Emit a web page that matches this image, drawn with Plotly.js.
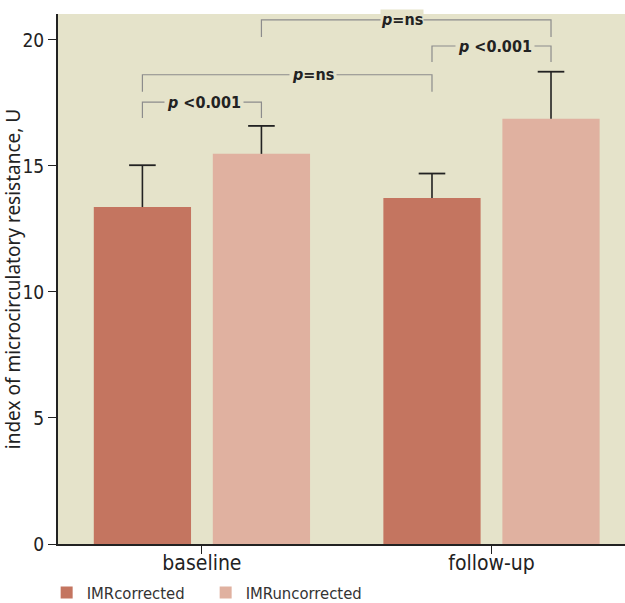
<!DOCTYPE html>
<html>
<head>
<meta charset="utf-8">
<script src="https://cdn.plot.ly/plotly-3.0.1.min.js"></script>
<style>html,body{margin:0;padding:0;background:#fff;}#chart{width:625px;height:603px;}</style>
</head>
<body>
<div id="chart"></div>
<script>
// ---- data ----
var categories = ['baseline', 'follow-up'];
var seriesNames = ['IMRcorrected', 'IMRuncorrected'];
var imrCorrected = [13.37, 13.73];
var imrCorrectedErr = [1.66, 0.97];
var imrUncorrected = [15.48, 16.87];
var imrUncorrectedErr = [1.11, 1.87];
var yTicks = [0, 5, 10, 15, 20];

// comparisons: [category index, series index] pairs
var compFrom = [[0, 0], [0, 0], [1, 0], [0, 1]];
var compTo   = [[0, 1], [1, 0], [1, 1], [1, 1]];
var compLabel = ['<i>p</i> <0.001', '<i>p</i>=ns', '<i>p</i> <0.001', '<i>p</i>=ns'];

// ---- styling / layout config ----
var colors = ['#c47560', '#e0b1a0'];
var bgColor = '#e5e3ca';
var bracketColor = '#8c8c8c';
var bracketLevel = [17.53, 18.62, 19.76, 20.80];
var bracketDrop = [0.63, 0.68, 0.63, 0.68];
var labelShiftPx = [2, 26, 3, -4];
var labelPad = [2, 2, 2, 0];
var bargap = 0.178, bargroupgap = 0.183;
var condensed = '"DejaVu Sans Condensed", "Liberation Sans Narrow", sans-serif';

var slot = (1 - bargap) / 2;
function barX(c, s) { return c + (s === 0 ? -slot / 2 : slot / 2); }

var values = [imrCorrected, imrUncorrected];
var errs = [imrCorrectedErr, imrUncorrectedErr];

var traces = [];
for (var s = 0; s < 2; s++) {
  traces.push({
    type: 'bar', name: seriesNames[s], x: [0, 1], y: values[s],
    marker: {color: colors[s]}
  });
}
// error whiskers (upper only) and caps
var wx = [], wy = [], cx = [], cy = [];
for (var s2 = 0; s2 < 2; s2++) {
  for (var c = 0; c < categories.length; c++) {
    var xc = barX(c, s2);
    wx.push(xc, xc, null);
    wy.push(values[s2][c], values[s2][c] + errs[s2][c], null);
    cx.push(xc);
    cy.push(values[s2][c] + errs[s2][c]);
  }
}
traces.push({type: 'scatter', mode: 'lines', x: wx, y: wy, showlegend: false,
  line: {color: '#222', width: 1.6}, hoverinfo: 'skip'});
traces.push({type: 'scatter', mode: 'markers', x: cx, y: cy, showlegend: false,
  marker: {symbol: 'line-ew', size: 19, line: {color: '#222', width: 1.8}}, hoverinfo: 'skip'});

var shapes = [];
var annotations = [];
for (var i = 0; i < compFrom.length; i++) {
  var x0 = barX(compFrom[i][0], compFrom[i][1]);
  var x1 = barX(compTo[i][0], compTo[i][1]);
  var yl = bracketLevel[i], yb = yl - bracketDrop[i];
  shapes.push({type: 'path', xref: 'x', yref: 'y',
    path: 'M ' + x0 + ',' + yb + ' L ' + x0 + ',' + yl + ' L ' + x1 + ',' + yl + ' L ' + x1 + ',' + yb,
    line: {color: bracketColor, width: 1.2}});
  annotations.push({xref: 'x', yref: 'y', x: (x0 + x1) / 2, y: yl, xshift: labelShiftPx[i],
    text: compLabel[i], showarrow: false, bgcolor: bgColor, borderpad: labelPad[i],
    font: {family: condensed, size: 16, color: '#222', weight: 'bold'},
    xanchor: 'center', yanchor: 'middle'});
}

var layout = {
  width: 625, height: 603,
  margin: {l: 58, r: 0, t: 14, b: 59, autoexpand: false},
  paper_bgcolor: '#ffffff',
  plot_bgcolor: bgColor,
  barmode: 'group', bargap: bargap, bargroupgap: bargroupgap,
  showlegend: true,
  legend: {orientation: 'h', x: -0.02, xanchor: 'left', y: -0.092, yanchor: 'middle',
           font: {family: condensed, size: 16.5, color: '#333'}, bgcolor: 'rgba(0,0,0,0)',
           traceorder: 'normal', entrywidth: 114, entrywidthmode: 'pixels'},
  xaxis: {
    range: [-0.497, 1.461], tickmode: 'array', tickvals: [0, 1], ticktext: categories,
    showgrid: false, zeroline: false, showline: true, linecolor: '#222', linewidth: 2,
    ticks: 'outside', ticklen: 8, tickcolor: '#222', tickwidth: 1,
    ticklabelstandoff: -9,
    tickfont: {family: condensed, size: 21, color: '#222'}
  },
  yaxis: {
    range: [0, 21.03], tickmode: 'array', tickvals: yTicks,
    showgrid: false, zeroline: false, showline: true, linecolor: '#222', linewidth: 2,
    ticks: 'outside', ticklen: 8, tickcolor: '#222', tickwidth: 1,
    tickfont: {family: condensed, size: 19, color: '#222'},
    title: {text: 'index of microcirculatory resistance, U', standoff: 0,
            font: {family: '"Noto Sans", "Liberation Sans", sans-serif', size: 19, color: '#222'}}
  },
  shapes: shapes,
  annotations: annotations
};

Plotly.newPlot('chart', traces, layout, {displayModeBar: false, staticPlot: true});
</script>
</body>
</html>
